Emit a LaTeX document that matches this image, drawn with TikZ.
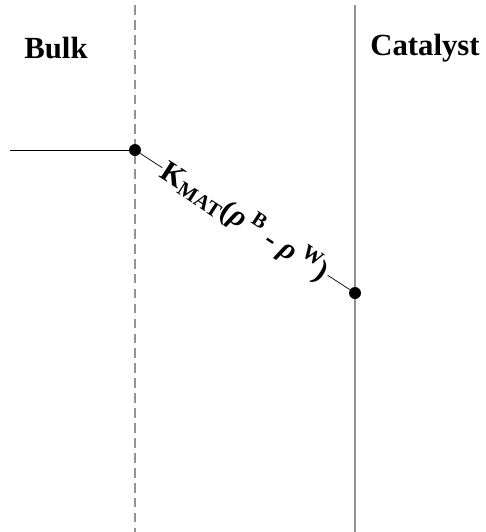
\documentclass[tikz,border=0pt]{standalone}
\usepackage{fontspec}
\setmainfont{Liberation Serif}
\begin{document}
\begin{tikzpicture}[x=0.02cm,y=-0.02cm]
\useasboundingbox (0,0) rectangle (485,532);
\tikzset{wall/.style={gray!85,line width=0.8pt},
  dot/.style={circle,fill=black,inner sep=0pt,minimum size=0.24cm}}

\draw[wall,dash pattern=on 5.5pt off 3pt] (135,5) -- (135,532);
\draw[wall] (355,5) -- (355,532);

\node[font=\bfseries\fontsize{17.5}{20}\selectfont] (bulk) at (56,48) {Bulk};
\node[font=\bfseries\fontsize{17.5}{20}\selectfont] (cat) at (425,48) {Catalyst};

\coordinate (left) at (10,150);
\node[dot] (b) at (135,150) {};
\node[dot] (w) at (355,293) {};
\draw[thin] (left) -- (b);
\draw[thin] (b) -- node[sloped,fill=white,inner sep=1pt,font=\bfseries\fontsize{17}{19}\selectfont]
  {K\textsubscript{MAT}(\textit{ρ}\,\textsuperscript{B} - \textit{ρ}\,\textsuperscript{W})} (w);
\end{tikzpicture}
\end{document}
